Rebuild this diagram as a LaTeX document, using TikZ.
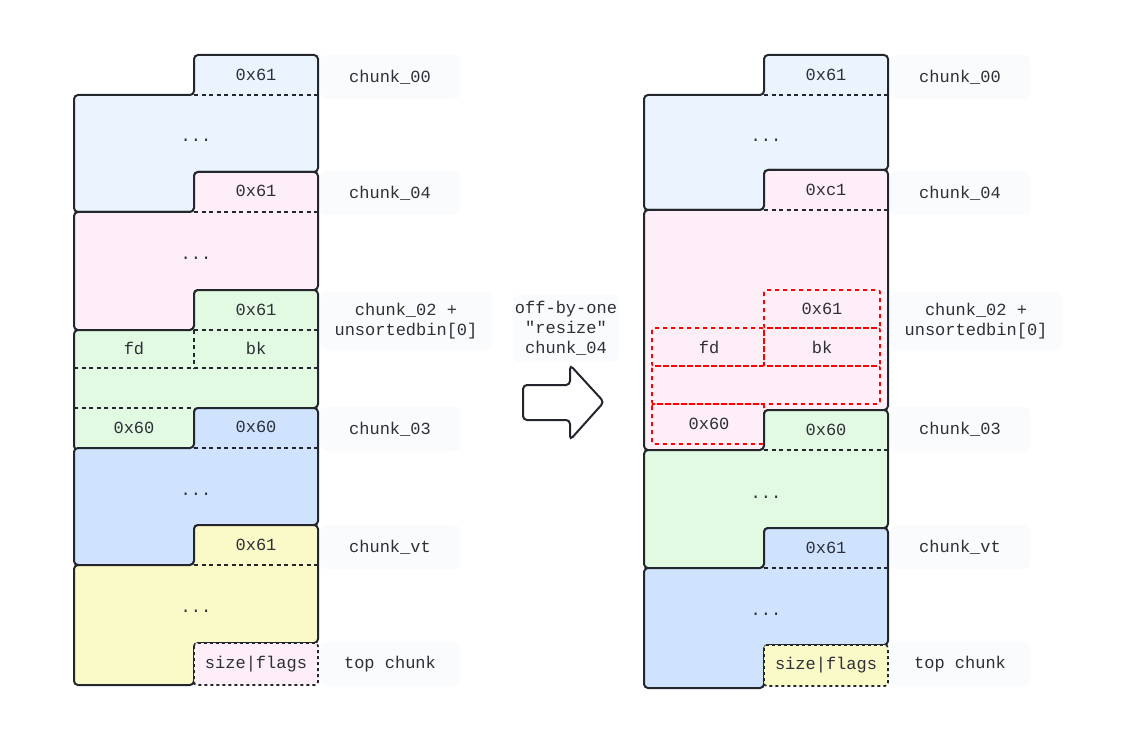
\documentclass[tikz,border=0pt]{standalone}
\usepackage{fontspec}
\setmonofont{Liberation Mono}
\usetikzlibrary{positioning}
\definecolor{ink}{HTML}{2E3038}
\definecolor{edge}{HTML}{23262C}
\definecolor{cBlueL}{HTML}{EBF3FE}
\definecolor{cPink}{HTML}{FDEEF8}
\definecolor{cGreen}{HTML}{E1FAE1}
\definecolor{cBlue}{HTML}{CFE3FF}
\definecolor{cYellow}{HTML}{FAF9C8}
\definecolor{namebg}{HTML}{FAFBFD}
\tikzset{
  every node/.style ={font=\ttfamily\fontsize{17}{20}\selectfont, text=ink},
  chunk/.style      ={draw=edge, line width=2pt, rounded corners=4pt},
  hdrline/.style    ={draw=edge, line width=1.6pt, dash pattern=on 4pt off 3.5pt},
  topbox/.style     ={draw=edge, line width=1.6pt, dash pattern=on 3pt off 3pt,
                      rounded corners=3pt},
  oldbox/.style     ={draw=red, line width=1.6pt, dash pattern=on 4pt off 4pt,
                      rounded corners=2pt},
  namebox/.style    ={fill=namebg, rounded corners=6pt, minimum width=140pt,
                      minimum height=44pt, inner sep=2pt},
  namebox2/.style   ={namebox, align=center, minimum width=172pt,
                      minimum height=58pt},
  resizearrow/.style={draw=edge, fill=white, line width=2pt, rounded corners=4pt},
}
% #1 fill, #2 shift, #3 top, #4 right bottom, #5 left bottom
\newcommand{\chunkpath}[5]{%
  \draw[chunk, fill=#1, xshift=#2] (194,#3) -- (318,#3) -- (318,#4) -- (194,#4)
    -- (194,#5) -- (74,#5) -- (74,#3+40) -- (194,#3+40) -- cycle;
  \draw[hdrline, xshift=#2] (194,#3+40) -- (318,#3+40);
}

\begin{document}
\begin{tikzpicture}[x=1pt, y=-1pt]
\useasboundingbox (0,0) rectangle (1137,743);

% before
\chunkpath{cBlueL}{0pt}{55}{172}{212}
\chunkpath{cPink}{0pt}{172}{290}{330}
\chunkpath{cGreen}{0pt}{290}{408}{450}
\draw[hdrline] (194,330) -- (194,368);
\draw[hdrline] (74,368) -- (318,368);
\draw[hdrline] (74,408) -- (194,408);
\chunkpath{cBlue}{0pt}{408}{525}{565}
\chunkpath{cYellow}{0pt}{525}{643}{685}
\draw[topbox, fill=cPink] (194,643) rectangle (318,685);

\node (a00h) at (256,75) {0x61};
\node (a00d) at (196,140) {...};
\node (a04h) at (256,191) {0x61};
\node (a04d) at (196,258) {...};
\node (a02h) at (256,310) {0x61};
\node (a02fd) at (134,348) {fd};
\node (a02bk) at (256,348) {bk};
\node (a02ps) at (134,428) {0x60};
\node (a03h) at (256,427) {0x60};
\node (a03d) at (196,494) {...};
\node (avth) at (256,545) {0x61};
\node (avtd) at (196,611) {...};
\node (atop) at (256,664) {size|flags};

\node[namebox] (n00) at (390,77) {chunk\_00};
\node[namebox] (n04) at (390,193) {chunk\_04};
\node[namebox2] (n02) at (406,321) {chunk\_02 +\\unsortedbin[0]};
\node[namebox] (n03) at (390,429) {chunk\_03};
\node[namebox] (nvt) at (390,547) {chunk\_vt};
\node[namebox] (ntop) at (390,664) {top chunk};

% off-by-one
\node[namebox, align=center, minimum width=104pt, minimum height=67pt]
  (why) at (566,328) {off-by-one\\"resize"\\chunk\_04};
\draw[resizearrow] (523,385) -- (570,385) -- (570,365) -- (604,402)
  -- (570,440) -- (570,420) -- (523,420) -- cycle;

% after
\chunkpath{cBlueL}{570pt}{55}{170}{210}
\chunkpath{cPink}{570pt}{170}{410}{450}
\draw[oldbox] (764,290) rectangle (880,328);
\draw[oldbox] (652,328) rectangle (764,366);
\draw[oldbox] (764,328) rectangle (880,366);
\draw[oldbox] (652,366) rectangle (880,404);
\draw[oldbox] (652,404) rectangle (764,444);
\chunkpath{cGreen}{570pt}{410}{528}{568}
\chunkpath{cBlue}{570pt}{528}{645}{688}
\draw[topbox, fill=cYellow] (764,645) rectangle (888,686);

\node (b00h) at (826,75) {0x61};
\node (b00d) at (766,140) {...};
\node (b04h) at (826,190) {0xc1};
\node (b02h) at (822,309) {0x61};
\node (b02fd) at (709,347) {fd};
\node (b02bk) at (822,347) {bk};
\node (b02ps) at (709,424) {0x60};
\node (b03h) at (826,430) {0x60};
\node (b03d) at (766,497) {...};
\node (bvth) at (826,548) {0x61};
\node (bvtd) at (766,614) {...};
\node (btop) at (826,665) {size|flags};

\node[namebox] (m00) at (960,77) {chunk\_00};
\node[namebox] (m04) at (960,193) {chunk\_04};
\node[namebox2] (m02) at (976,321) {chunk\_02 +\\unsortedbin[0]};
\node[namebox] (m03) at (960,429) {chunk\_03};
\node[namebox] (mvt) at (960,547) {chunk\_vt};
\node[namebox] (mtop) at (960,664) {top chunk};

\end{tikzpicture}
\end{document}
